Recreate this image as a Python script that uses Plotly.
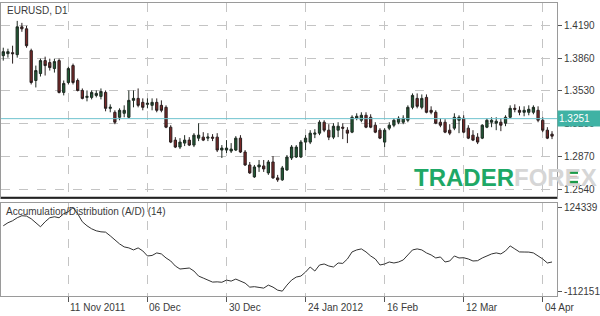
import plotly.graph_objects as go

# ---------------- data ----------------
open_ = [1.3885,1.3905,1.3915,1.3895,1.4175,1.4155,1.3935,1.3635,1.3705,1.3835,
         1.3815,1.3755,1.3835,1.3515,1.3615,1.3785,1.3635,1.3535,1.3465,1.3465,
         1.3485,1.3475,1.3515,1.3355,1.3315,1.3265,1.3305,1.3265,1.3435,1.3455,
         1.3415,1.3395,1.3385,1.3415,1.3385,1.3365,1.3165,1.3035,1.2965,1.3005,
         1.3035,1.2985,1.3055,1.3065,1.3055,1.3065,1.3065,1.2935,1.2935,1.2925,
         1.2935,1.3055,1.2915,1.2785,1.2665,1.2765,1.2775,1.2705,1.2815,1.2655,
         1.2635,1.2735,1.2855,1.2865,1.2865,1.3015,1.3015,1.3095,1.3105,1.3215,
         1.3135,1.3065,1.3135,1.3165,1.3135,1.3115,1.3255,1.3235,1.3285,1.3265,
         1.3185,1.3135,1.3015,1.3155,1.3185,1.3215,1.3215,1.3235,1.3365,1.3455,
         1.3365,1.3465,1.3335,1.3315,1.3215,1.3215,1.3135,1.3155,1.3235,1.3255,
         1.3155,1.3085,1.3065,1.3055,1.3165,1.3215,1.3205,1.3215,1.3205,1.3265,
         1.3355,1.3335,1.3315,1.3315,1.3315,1.3335,1.3235,1.3135,1.3095]
high = [1.3965,1.3955,1.3985,1.4235,1.4215,1.4185,1.3955,1.3785,1.3855,1.3875,
        1.3855,1.3855,1.3855,1.3635,1.3775,1.3805,1.3655,1.3555,1.3535,1.3535,
        1.3535,1.3555,1.3535,1.3395,1.3335,1.3355,1.3385,1.3535,1.3535,1.3555,
        1.3455,1.3455,1.3455,1.3455,1.3435,1.3385,1.3185,1.3065,1.3055,1.3085,
        1.3065,1.3105,1.3205,1.3115,1.3105,1.3095,1.3105,1.2985,1.3035,1.3005,
        1.3075,1.3085,1.2935,1.2815,1.2785,1.2835,1.2835,1.2835,1.2875,1.2685,
        1.2775,1.2885,1.2985,1.2985,1.3035,1.3085,1.3135,1.3145,1.3235,1.3235,
        1.3195,1.3205,1.3215,1.3205,1.3165,1.3285,1.3305,1.3315,1.3315,1.3295,
        1.3215,1.3155,1.3155,1.3215,1.3255,1.3275,1.3285,1.3385,1.3505,1.3505,
        1.3495,1.3495,1.3375,1.3335,1.3255,1.3245,1.3195,1.3305,1.3285,1.3285,
        1.3185,1.3135,1.3105,1.3195,1.3255,1.3265,1.3265,1.3255,1.3285,1.3385,
        1.3395,1.3375,1.3375,1.3385,1.3385,1.3375,1.3265,1.3165,1.3125]
low = [1.3835,1.3865,1.3805,1.3865,1.4125,1.3965,1.3595,1.3565,1.3675,1.3685,
       1.3735,1.3715,1.3505,1.3485,1.3595,1.3595,1.3525,1.3445,1.3425,1.3445,
       1.3465,1.3445,1.3325,1.3315,1.3195,1.3235,1.3265,1.3255,1.3365,1.3365,
       1.3335,1.3355,1.3335,1.3315,1.3315,1.3155,1.3005,1.2955,1.2945,1.2975,
       1.2975,1.2965,1.3025,1.3025,1.3025,1.3025,1.2915,1.2855,1.2905,1.2905,
       1.2925,1.2905,1.2775,1.2695,1.2655,1.2715,1.2715,1.2685,1.2645,1.2615,
       1.2625,1.2725,1.2835,1.2855,1.2855,1.2935,1.2995,1.3055,1.3085,1.3115,
       1.3035,1.3045,1.3065,1.3045,1.3005,1.3105,1.3235,1.3215,1.3155,1.3155,
       1.3105,1.3045,1.2965,1.3135,1.3165,1.3195,1.3195,1.3215,1.3345,1.3355,
       1.3345,1.3305,1.3295,1.3195,1.3165,1.3105,1.3085,1.3135,1.3105,1.3105,
       1.3045,1.3025,1.2995,1.3045,1.3155,1.3165,1.3135,1.3125,1.3175,1.3255,
       1.3315,1.3285,1.3275,1.3285,1.3295,1.3215,1.3115,1.3045,1.3045]
close = [1.3925,1.3925,1.3905,1.4175,1.4155,1.3985,1.3615,1.3735,1.3835,1.3785,
         1.3765,1.3825,1.3515,1.3605,1.3755,1.3615,1.3535,1.3455,1.3475,1.3515,
         1.3505,1.3525,1.3355,1.3365,1.3215,1.3335,1.3335,1.3435,1.3455,1.3385,
         1.3365,1.3405,1.3415,1.3335,1.3335,1.3165,1.3015,1.2965,1.3015,1.3035,
         1.2985,1.3085,1.3085,1.3035,1.3065,1.3055,1.2935,1.2955,1.2955,1.2945,
         1.3055,1.2915,1.2785,1.2705,1.2765,1.2785,1.2745,1.2815,1.2655,1.2635,
         1.2755,1.2865,1.2965,1.2965,1.3015,1.3055,1.3105,1.3105,1.3215,1.3135,
         1.3065,1.3175,1.3175,1.3155,1.3105,1.3265,1.3275,1.3285,1.3165,1.3165,
         1.3115,1.3055,1.3135,1.3185,1.3235,1.3255,1.3255,1.3365,1.3485,1.3375,
         1.3455,1.3315,1.3315,1.3205,1.3185,1.3115,1.3105,1.3265,1.3265,1.3115,
         1.3055,1.3035,1.3015,1.3185,1.3235,1.3235,1.3225,1.3185,1.3265,1.3355,
         1.3345,1.3315,1.3335,1.3345,1.3365,1.3235,1.3135,1.3055,1.3075]
ad = [73050,81600,87300,95850,101550,100500,93000,81600,70200,84450,
      95850,98700,95850,107250,112950,124339,107250,84450,73050,64500,
      58800,55950,55000,44560,33160,21760,13220,10370,4670,10370,
      1820,-12430,-11000,-3880,-6730,-18130,-26670,-40920,-49470,-48500,
      -46620,-55170,-69410,-75110,-80810,-86510,-85800,-87000,-80810,-83660,
      -77960,-83660,-89360,-100760,-99500,-101500,-103610,-95060,-100760,-109300,
      -112151,-95060,-80810,-72260,-69410,-58020,-43770,-55170,-38070,-35220,
      -40920,-43770,-32370,-33500,-20980,-1030,4670,7520,-1030,-12430,
      -20980,-38070,-35220,-29520,-32370,-29520,-23830,-9580,4670,7520,
      4670,-3880,-9580,-18130,-15280,-29520,-26670,-12430,-18130,-17500,
      -20980,-26670,-25800,-18130,-12430,-6730,-3880,-6730,1820,16070,
      7520,-1030,-1300,-1500,-3880,-12430,-20980,-32370,-29520]
bars = list(range(len(close)))

price_ticks = [1.4190, 1.3860, 1.3530, 1.3200, 1.2870, 1.2540]
ad_ticks = [124339, -112151]
ad_tick_text = ["124339", "-112151"]
date_idx = [14, 31, 48, 65, 82, 99, 116]
date_text = ["11 Nov 2011", "06 Dec", "30 Dec", "24 Jan 2012", "16 Feb", "12 Mar", "04 Apr"]
bid_price = 1.3251

# ---------------- layout constants ----------------
W, H = 600, 316
def px(x): return x / W
def py(y): return 1 - y / H

FONT = "Liberation Sans, Arial, sans-serif"
TXT = "#3a3a3a"
GRID = "#c4c4c4"
BORDER = "#9a9a9a"

fig = go.Figure()
fig.add_trace(go.Candlestick(
    x=bars, open=open_, high=high, low=low, close=close,
    increasing=dict(line=dict(color="#1f2a22", width=1), fillcolor="#1f5a35"),
    decreasing=dict(line=dict(color="#2a1f1f", width=1), fillcolor="#7a2828"),
    whiskerwidth=0, xaxis="x", yaxis="y", hoverinfo="skip", showlegend=False))
fig.add_trace(go.Scatter(
    x=bars, y=ad, mode="lines", line=dict(color="#333333", width=1),
    xaxis="x2", yaxis="y2", hoverinfo="skip", showlegend=False))

xr = [-0.49, 119.07]
fig.update_layout(
    width=W, height=H, margin=dict(l=0, r=0, t=0, b=0),
    paper_bgcolor="white", plot_bgcolor="white",
    font=dict(family=FONT, size=10, color=TXT),
    xaxis=dict(domain=[px(1), px(557)], range=xr, rangeslider=dict(visible=False),
               showgrid=True, gridcolor=GRID, griddash="dash", gridwidth=1,
               tickvals=date_idx, showticklabels=False, ticks="",
               showline=True, linecolor=BORDER, mirror=True, zeroline=False,
               anchor="y"),
    yaxis=dict(domain=[py(198), py(2)], range=[1.2455, 1.4415], side="right",
               tickvals=price_ticks, ticktext=[f"{v:.4f}" for v in price_ticks],
               showgrid=True, gridcolor=GRID, griddash="dash", gridwidth=1,
               ticks="outside", ticklen=4, tickcolor="#555", zeroline=False,
               showline=True, linecolor=BORDER, mirror=True, anchor="x",
               tickfont=dict(size=10, color=TXT)),
    xaxis2=dict(domain=[px(1), px(557)], range=xr, matches="x",
                showgrid=True, gridcolor=GRID, griddash="dash", gridwidth=1,
                tickvals=date_idx, showticklabels=False, ticks="outside",
                ticklen=5, tickcolor="#555",
                showline=True, linecolor=BORDER, mirror=True, zeroline=False,
                anchor="y2"),
    yaxis2=dict(domain=[py(297), py(203)], range=[-126228, 138416], side="right",
                tickvals=ad_ticks, ticktext=ad_tick_text, showgrid=False,
                ticks="outside", ticklen=4, tickcolor="#555", zeroline=False,
                showline=True, linecolor=BORDER, mirror=True, anchor="x2",
                tickfont=dict(size=10, color=TXT)),
)

# bid line and label
fig.add_shape(type="line", xref="x domain", yref="y", x0=0, x1=1, y0=bid_price, y1=bid_price,
              line=dict(color="#6fc3cf", width=1))
fig.add_annotation(xref="paper", yref="y", x=px(557), y=bid_price, xanchor="left", yanchor="middle",
                   text=f"{bid_price:.4f}", showarrow=False, bgcolor="#3fb2a4",
                   font=dict(color="white", size=10, family=FONT), width=40, height=13, align="left")

# main panel thick bottom border
fig.add_shape(type="line", xref="paper", yref="paper", x0=px(1), x1=px(557), y0=py(198), y1=py(198),
              line=dict(color="#222", width=2))

# titles
fig.add_annotation(xref="paper", yref="paper", x=px(5), y=py(10), xanchor="left", yanchor="middle",
                   text="EURUSD, D1", showarrow=False, font=dict(size=10, color=TXT))
fig.add_annotation(xref="paper", yref="paper", x=px(4), y=py(212), xanchor="left", yanchor="middle",
                   text="Accumulation/Distribution (A/D) (14)", showarrow=False,
                   font=dict(size=10, color=TXT))

# date labels
for i, t in zip(date_idx, date_text):
    fig.add_annotation(xref="x2", yref="paper", x=i, y=py(308), xanchor="left", yanchor="middle",
                       xshift=0, text=t, showarrow=False, font=dict(size=10, color=TXT))

# watermark
fig.add_annotation(xref="paper", yref="paper", x=px(412), y=py(178), xanchor="left", yanchor="middle",
                   text="<b><span style='color:#1ea866'>TRADER</span><span style='color:#d6d6d6'>FOREX</span></b>",
                   showarrow=False, font=dict(size=24, family=FONT))
for (x0, x1, y0, y1, c) in [(568, 578, 170, 174, "#1a9a4a"), (567, 577, 176, 179, "#e04040"),
                            (568, 578, 181, 185, "#1a9a4a")]:
    fig.add_shape(type="rect", xref="paper", yref="paper", x0=px(x0), x1=px(x1), y0=py(y1), y1=py(y0),
                  fillcolor=c, line=dict(width=0))

fig.write_html("out.html")
